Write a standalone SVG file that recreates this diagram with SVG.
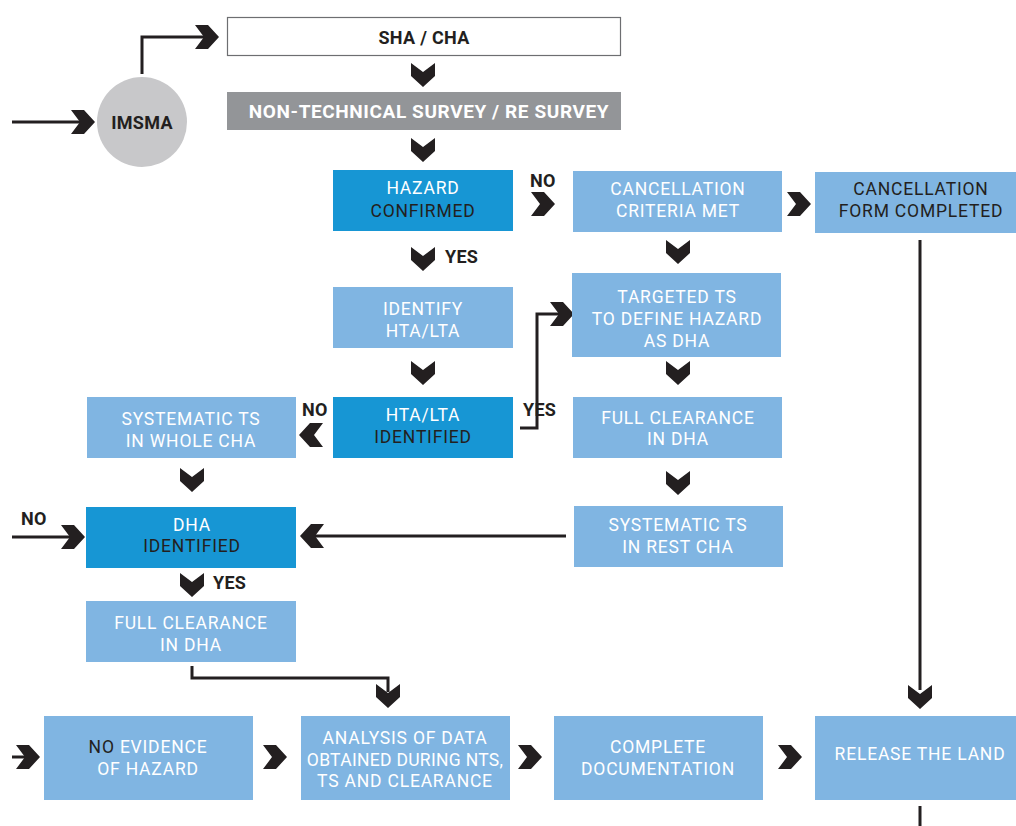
<svg xmlns="http://www.w3.org/2000/svg" width="1016" height="826" viewBox="0 0 1016 826">
<style>
.dk{fill:#1796d4}
.lt{fill:#80b5e2}
.t{font-family:Roboto,"Liberation Sans",sans-serif;font-size:17.5px;letter-spacing:0.8px;text-anchor:middle;fill:#ffffff}
.d{fill:#231f20}
.b{font-family:Roboto,"Liberation Sans",sans-serif;font-weight:bold;font-size:18px;letter-spacing:0.3px;fill:#231f20}
.ln{fill:none;stroke:#231f20;stroke-width:3}
.ch{fill:#231f20}
</style>
<defs>
<path id="chev" d="M-12,-12 L0,-3 L12,-12 L12,1 L0,12 L-12,1 Z"/>
</defs>
<rect width="1016" height="826" fill="#ffffff"/>
<g id="connectors">
<path class="ln" d="M12,122 H82"/>
<use href="#chev" class="ch" transform="translate(83,122) rotate(-90)"/>
<path class="ln" d="M142,74 V37 H205"/>
<use href="#chev" class="ch" transform="translate(207,37) rotate(-90)"/>
<use href="#chev" class="ch" transform="translate(423,75)"/>
<use href="#chev" class="ch" transform="translate(423,150)"/>
<use href="#chev" class="ch" transform="translate(543,204) rotate(-90)"/>
<text class="b" x="530" y="187">NO</text>
<use href="#chev" class="ch" transform="translate(799,204) rotate(-90)"/>
<use href="#chev" class="ch" transform="translate(678,252)"/>
<use href="#chev" class="ch" transform="translate(423,259)"/>
<text class="b" x="445" y="263">YES</text>
<use href="#chev" class="ch" transform="translate(423,373)"/>
<use href="#chev" class="ch" transform="translate(678,373)"/>
<path class="ln" d="M520,428 H537 V314 H560"/>
<use href="#chev" class="ch" transform="translate(562,314) rotate(-90)"/>
<text class="b" x="523" y="416">YES</text>
<use href="#chev" class="ch" transform="translate(311,435) rotate(90)"/>
<text class="b" x="302" y="416">NO</text>
<use href="#chev" class="ch" transform="translate(678,483)"/>
<use href="#chev" class="ch" transform="translate(192,480)"/>
<path class="ln" d="M566,536 H312"/>
<use href="#chev" class="ch" transform="translate(312,536) rotate(90)"/>
<path class="ln" d="M12,537 H72"/>
<use href="#chev" class="ch" transform="translate(73,537) rotate(-90)"/>
<text class="b" x="21" y="525">NO</text>
<use href="#chev" class="ch" transform="translate(192,585)"/>
<text class="b" x="213" y="589">YES</text>
<path class="ln" d="M192,666 V678 H388 V692"/>
<use href="#chev" class="ch" transform="translate(388,696)"/>
<path class="ln" d="M920,240 V690"/>
<use href="#chev" class="ch" transform="translate(920,697)"/>
<path class="ln" d="M12,757 H25"/>
<use href="#chev" class="ch" transform="translate(28,757) rotate(-90)"/>
<use href="#chev" class="ch" transform="translate(275,757) rotate(-90)"/>
<use href="#chev" class="ch" transform="translate(530,757) rotate(-90)"/>
<use href="#chev" class="ch" transform="translate(790,757) rotate(-90)"/>
<path class="ln" d="M920,806 V826"/>
</g>
<g id="imsma">
<circle cx="142" cy="122" r="45" fill="#c8c8ca"/>
<text class="b" x="142" y="129" text-anchor="middle">IMSMA</text>
</g>
<g id="sha">
<rect x="227.5" y="17.5" width="393" height="38" fill="#ffffff" stroke="#6d6e71" stroke-width="1.2"/>
<text class="b" x="424" y="44" text-anchor="middle">SHA / CHA</text>
</g>
<g id="nts">
<rect x="227" y="92" width="394" height="38" fill="#939598"/>
<text class="b" x="429" y="118" text-anchor="middle" style="fill:#fff;font-size:19px;letter-spacing:0.6px">NON-TECHNICAL SURVEY / RE SURVEY</text>
</g>
<g id="hazard-confirmed">
<rect class="dk" x="333" y="170" width="180" height="61"/>
<text class="t" x="423" y="194">HAZARD</text>
<text class="t d" x="423" y="217">CONFIRMED</text>
</g>
<g id="cancellation-criteria">
<rect class="lt" x="573" y="171" width="209" height="61"/>
<text class="t" x="678" y="195">CANCELLATION</text>
<text class="t" x="678" y="217">CRITERIA MET</text>
</g>
<g id="cancellation-form">
<rect class="lt" x="815" y="172" width="201" height="61"/>
<text class="t d" x="921" y="195">CANCELLATION</text>
<text class="t d" x="921" y="217">FORM COMPLETED</text>
</g>
<g id="identify">
<rect class="lt" x="333" y="287" width="180" height="61"/>
<text class="t" x="423" y="315">IDENTIFY</text>
<text class="t" x="423" y="337">HTA/LTA</text>
</g>
<g id="targeted-ts">
<rect class="lt" x="572" y="273" width="209" height="84"/>
<text class="t" x="677" y="303">TARGETED TS</text>
<text class="t" x="677" y="325">TO DEFINE HAZARD</text>
<text class="t" x="677" y="347">AS DHA</text>
</g>
<g id="hta-identified">
<rect class="dk" x="333" y="397" width="180" height="61"/>
<text class="t" x="423" y="421">HTA/LTA</text>
<text class="t d" x="423" y="443">IDENTIFIED</text>
</g>
<g id="full-clearance-right">
<rect class="lt" x="573" y="397" width="209" height="61"/>
<text class="t" x="678" y="424">FULL CLEARANCE</text>
<text class="t" x="678" y="445">IN DHA</text>
</g>
<g id="systematic-whole">
<rect class="lt" x="87" y="397" width="209" height="61"/>
<text class="t" x="191" y="425">SYSTEMATIC TS</text>
<text class="t" x="191" y="447">IN WHOLE CHA</text>
</g>
<g id="systematic-rest">
<rect class="lt" x="574" y="506" width="209" height="61"/>
<text class="t" x="678" y="531">SYSTEMATIC TS</text>
<text class="t" x="678" y="553">IN REST CHA</text>
</g>
<g id="dha-identified">
<rect class="dk" x="86" y="507" width="210" height="61"/>
<text class="t" x="192" y="531">DHA</text>
<text class="t d" x="192" y="552">IDENTIFIED</text>
</g>
<g id="full-clearance-left">
<rect class="lt" x="86" y="601" width="210" height="61"/>
<text class="t" x="191" y="629">FULL CLEARANCE</text>
<text class="t" x="191" y="651">IN DHA</text>
</g>
<g id="no-evidence">
<rect class="lt" x="44" y="716" width="209" height="84"/>
<text class="t" x="148" y="753"><tspan class="d">NO</tspan> EVIDENCE</text>
<text class="t" x="148" y="775">OF HAZARD</text>
</g>
<g id="analysis">
<rect class="lt" x="301" y="716" width="209" height="84"/>
<text class="t" x="405" y="744">ANALYSIS OF DATA</text>
<text class="t" x="405" y="766" style="letter-spacing:0.3px">OBTAINED DURING NTS,</text>
<text class="t" x="405" y="787">TS AND CLEARANCE</text>
</g>
<g id="documentation">
<rect class="lt" x="554" y="716" width="209" height="84"/>
<text class="t" x="658" y="753">COMPLETE</text>
<text class="t" x="658" y="775">DOCUMENTATION</text>
</g>
<g id="release">
<rect class="lt" x="815" y="716" width="201" height="84"/>
<text class="t" x="920" y="760">RELEASE THE LAND</text>
</g>
</svg>
